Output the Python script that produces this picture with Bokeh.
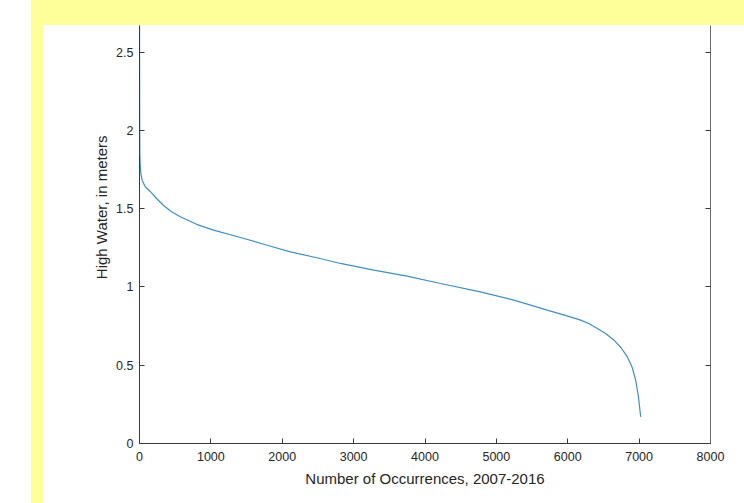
from bokeh.plotting import figure
from bokeh.models import LinearAxis, FixedTicker, Range1d, Title
from bokeh.embed import file_html
from bokeh.resources import INLINE

# Data (sorted high-water values vs occurrence count)
occurrences = [0, 1, 3, 5, 10, 20, 38, 80, 150, 250, 337, 450, 571, 800, 1038, 1415, 1800,
               2113, 2500, 2815, 3282, 3750, 4217, 4776, 5245, 5714, 6000, 6181, 6300, 6415,
               6540, 6648, 6750, 6835, 6900, 6952, 6990, 7022]
high_water = [2.95, 2.5, 2.0, 1.85, 1.78, 1.72, 1.68, 1.64, 1.61, 1.56, 1.52, 1.48, 1.448,
              1.40, 1.363, 1.316, 1.265, 1.224, 1.185, 1.15, 1.107, 1.069, 1.022, 0.969,
              0.916, 0.852, 0.814, 0.788, 0.765, 0.735, 0.70, 0.66, 0.61, 0.553, 0.49,
              0.404, 0.30, 0.17]

x_ticks = [0, 1000, 2000, 3000, 4000, 5000, 6000, 7000, 8000]
y_ticks = [0, 0.5, 1, 1.5, 2, 2.5]
y_tick_labels = ["0", "0.5", "1", "1.5", "2", "2.5"]

x_title = "Number of Occurrences, 2007-2016"
y_title = "High Water, in meters"

FONT = "Liberation Sans"
TXT = "#262626"
AX = "#3a3a3a"
YELLOW = "#FFFF99"

W, H = 744, 503
bg = (f"linear-gradient({YELLOW},{YELLOW}) 31px 0px / 713px 25px no-repeat, "
      f"linear-gradient({YELLOW},{YELLOW}) 31px 0px / 12px {H}px no-repeat, white")

p = figure(width=W, height=H, output_backend="svg", toolbar_location=None,
           x_range=Range1d(0, 8000), y_range=Range1d(0, 2.67),
           min_border_left=139, min_border_right=34, min_border_top=25, min_border_bottom=60,
           x_axis_location=None, y_axis_location=None,
           styles={"background": bg})
p.outline_line_color = None
p.grid.visible = False
p.background_fill_color = "white"
p.border_fill_color = None

p.line(occurrences, high_water, line_color="#3f8fc6", line_width=1.2)

def style_axis(ax):
    ax.axis_line_color = AX
    ax.axis_line_width = 1
    ax.major_tick_line_color = AX
    ax.major_tick_in = 5
    ax.major_tick_out = 0
    ax.minor_tick_line_color = None
    ax.major_label_text_font = FONT
    ax.major_label_text_font_size = "12.5px"
    ax.major_label_text_color = TXT

xb = LinearAxis(ticker=FixedTicker(ticks=x_ticks))
style_axis(xb)
xb.major_label_standoff = 8
xb.axis_label = x_title
xb.axis_label_text_font = FONT
xb.axis_label_text_font_size = "15px"
xb.axis_label_text_font_style = "normal"
xb.axis_label_text_color = TXT
xb.axis_label_standoff = 6
p.add_layout(xb, "below")

yl = LinearAxis(ticker=FixedTicker(ticks=y_ticks))
style_axis(yl)
yl.major_label_standoff = 6
yl.major_label_overrides = {t: s for t, s in zip(y_ticks, y_tick_labels)}
p.add_layout(yl, "left")

yr = LinearAxis(ticker=FixedTicker(ticks=y_ticks))
style_axis(yr)
yr.axis_line_color = "#6a6a6a"
yr.major_label_overrides = {t: "" for t in y_ticks}
p.add_layout(yr, "right")

# y-axis title: the original axes are cropped at the top, so the title sits above the frame centre
p.add_layout(Title(text=y_title, align="right", offset=110, standoff=7,
                   text_font=FONT, text_font_size="15px", text_font_style="normal",
                   text_color=TXT), "left")

open("out.html", "w").write(file_html(p, INLINE))
